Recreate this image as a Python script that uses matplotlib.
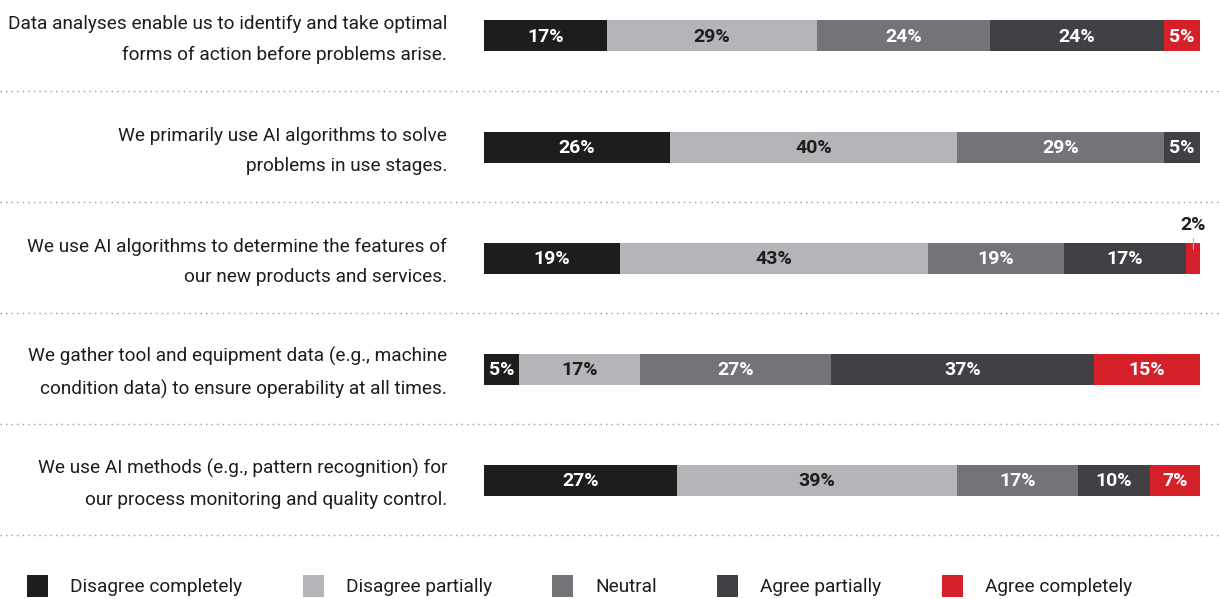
import numpy as np
import matplotlib.pyplot as plt
from matplotlib.patches import Rectangle
from matplotlib.lines import Line2D

statements = [
    "Data analyses enable us to identify and take optimal\nforms of action before problems arise.",
    "We primarily use AI algorithms to solve\nproblems in use stages.",
    "We use AI algorithms to determine the features of\nour new products and services.",
    "We gather tool and equipment data (e.g., machine\ncondition data) to ensure operability at all times.",
    "We use AI methods (e.g., pattern recognition) for\nour process monitoring and quality control.",
]
categories = ["Disagree completely", "Disagree partially", "Neutral",
              "Agree partially", "Agree completely"]
disagree_completely = [17, 26, 19, 5, 27]
disagree_partially = [29, 40, 43, 17, 39]
neutral = [24, 29, 19, 27, 17]
agree_partially = [24, 5, 17, 37, 10]
agree_completely = [5, 0, 2, 15, 7]

colors = ["#1d1d1b", "#b5b4b9", "#747378", "#414045", "#d5202a"]
text_colors = ["white", "#1d1d1b", "white", "white", "white"]

W, H = 1219, 599
fig = plt.figure(figsize=(W / 100, H / 100), dpi=100)
plt.rcParams['font.family'] = ['Roboto', 'DejaVu Sans']

# axes mapped so that y data == pixel rows, x data == percent of row
ax = fig.add_axes([484 / W, 0, (1200 - 484) / W, 1])
ax.set_xlim(0, 100)
ax.set_ylim(H, 0)
ax.axis("off")

series = np.array([disagree_completely, disagree_partially, neutral,
                   agree_partially, agree_completely], dtype=float)
totals = series.sum(axis=0)
centers = [35.5, 147, 258, 369, 480]
bar_h = 31

for i, y in enumerate(centers):
    left = 0.0
    for k in range(len(categories)):
        v = series[k, i]
        if v == 0:
            continue
        w = v / totals[i] * 100
        ax.barh(y, w, left=left, height=bar_h, color=colors[k], linewidth=0)
        if v >= 5:
            ax.text(left + w / 2, y + 1, f"{int(v)}%", ha="center", va="center",
                    color=text_colors[k], fontsize=14, fontweight="bold")
        else:
            xm = left + w / 2
            ax.plot([xm, xm], [y - bar_h / 2 + 6, y - bar_h / 2 - 5],
                    color="#b5b4b9", lw=0.8)
            ax.text(xm, y - bar_h / 2 - 18, f"{int(v)}%", ha="center", va="center",
                    color="#1d1d1b", fontsize=14, fontweight="bold")
        left += w

    fig.text(447 / W, 1 - (y + 4) / H, statements[i], ha="right", va="center",
             fontsize=13.7, color="#1d1d1b", linespacing=1.9)

# dotted separators
for y in [91, 202, 313, 424, 535]:
    fig.add_artist(Line2D([0, 1], [1 - y / H, 1 - y / H], color="#9a9a9a",
                          lw=1, linestyle=(0, (1, 3))))

# legend
leg_x = [27, 303, 552, 717, 942]
for k, name in enumerate(categories):
    fig.add_artist(Rectangle((leg_x[k] / W, 1 - 597 / H), 21 / W, 22 / H,
                             transform=fig.transFigure, color=colors[k], lw=0))
    fig.text((leg_x[k] + 43) / W, 1 - 587 / H, name, ha="left", va="center",
             fontsize=13.7, color="#1d1d1b")

plt.savefig("out.png", dpi=100)
